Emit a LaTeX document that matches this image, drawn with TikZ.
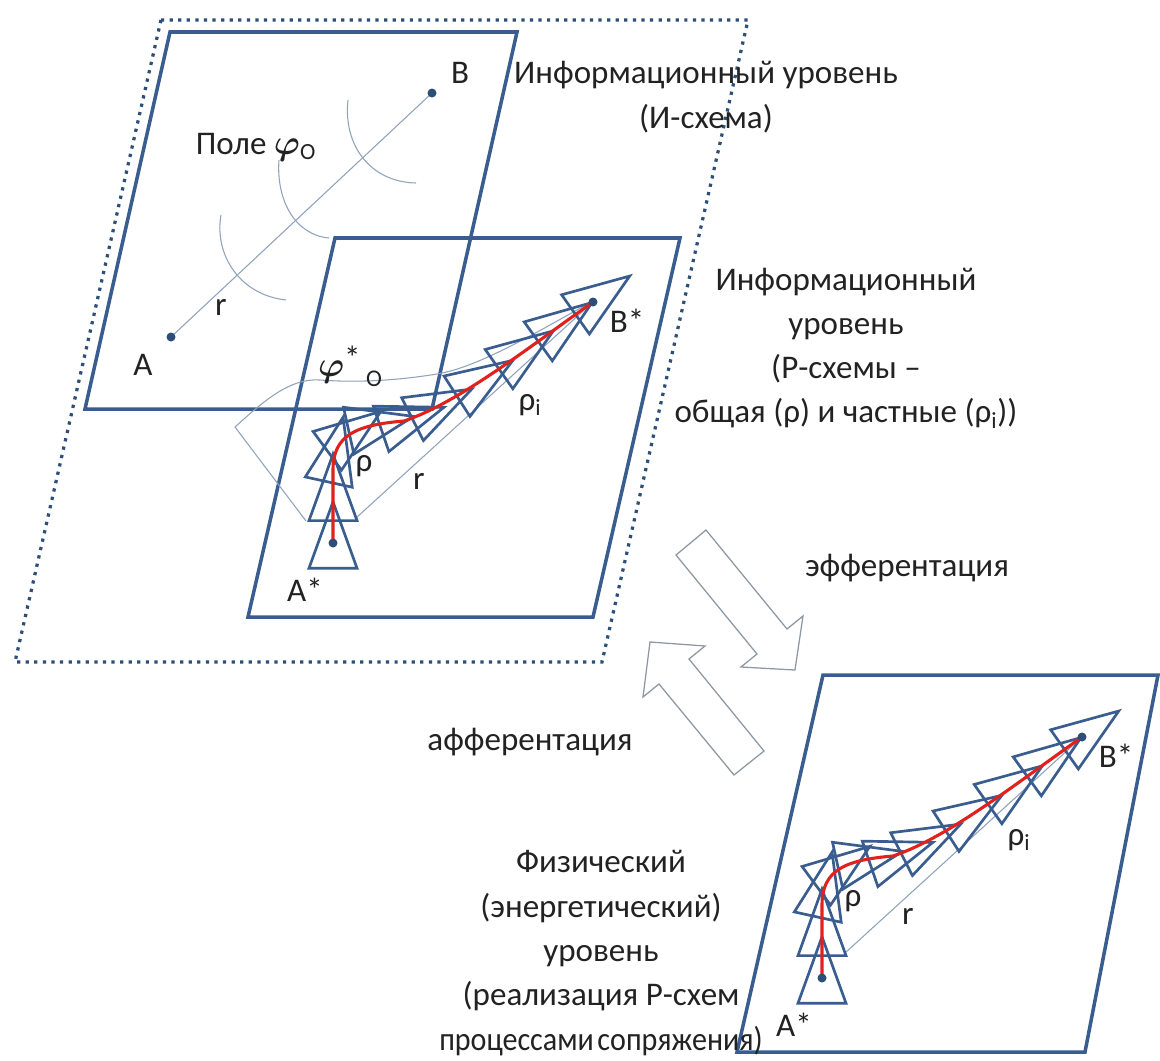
\documentclass[tikz,border=0pt]{standalone}
\usepackage{fontspec}
\setmainfont{Carlito}
\usepackage{amsmath}
\usepackage{graphicx}
\usetikzlibrary{decorations.markings}
\definecolor{frameblue}{HTML}{3A5D8F}
\definecolor{dotblue}{HTML}{2E4E7A}
\definecolor{thinblue}{HTML}{8FA3BC}
\definecolor{redc}{HTML}{E0221E}
\definecolor{arrowgray}{HTML}{8E98A3}
\definecolor{txt}{HTML}{222222}
\tikzset{
  frame/.style={draw=frameblue, line width=2.5pt, line join=miter},
  dotframe/.style={draw=dotblue, line width=2.3pt, dash pattern=on 2.3pt off 3.8pt},
  thinline/.style={draw=thinblue, line width=0.75pt},
  redline/.style={draw=redc, line width=2.2pt, line cap=round},
  tri/.style={draw=frameblue, line width=1.9pt, line join=miter},
  bigarrow/.style={draw=arrowgray, line width=0.9pt, fill=white, line join=miter},
  lbl/.style={font=\fontsize{23.5}{31.5}\selectfont, text=txt, inner sep=0pt},
  body/.style={lbl, align=center}
}
\newcommand\rtri{\draw[tri] (1.02cm,0cm) -- (-0.64cm,0.6cm) -- (-0.64cm,-0.6cm) -- cycle;}
\newcommand\pscheme[2]{%
\begin{scope}[shift={#1}]
  \draw[thinline] (23,-25) -- (260,-241);
  \path[decorate,decoration={markings,
      mark=at position 0.01cm with {\rtri},
      mark=at position 1.2cm with {\rtri},
      mark=at position 2.15cm with {\rtri},
      mark=at position 2.8cm with {\rtri},
      mark=at position 3.5cm with {\rtri},
      mark=at position 4.3cm with {\rtri}}]
    (0,0) -- (0,-73) .. controls (0,-108) and (23,-118) .. (71,-122)
    .. controls (125,-140) and (195,-195) .. (260,-241) -- (301,-270);
  \path[decorate,decoration={markings,
      mark=at position -6cm with {\rtri},
      mark=at position -4.75cm with {\rtri},
      mark=at position -3.5cm with {\rtri},
      mark=at position -2.3cm with {\rtri},
      mark=at position -1.15cm with {\rtri}}]
    (0,0) -- (0,-73) .. controls (0,-108) and (23,-118) .. (71,-122)
    .. controls (125,-140) and (195,-195) .. (260,-241) -- (301,-270);
  \draw[redline] (0,0) -- (0,-73) .. controls (0,-108) and (23,-118) .. (71,-122)
    .. controls (125,-140) and (195,-195) .. (260,-241);
  \fill[dotblue] (0,0) circle (4.5);
  \fill[dotblue] (260,-241) circle (4.5);
  \node[lbl] (#2A) at (-28,47) {A*};
  \node[lbl] (#2B) at (294,-222) {B*};
  \node[lbl] (#2rho) at (31,-77) {ρ};
  \node[lbl] (#2r) at (86,-62) {r};
  \node[lbl] (#2rhoi) at (197,-138) {ρ\textsubscript{i}};
\end{scope}}
\begin{document}
\begin{tikzpicture}[x=0.025cm, y=-0.025cm]
\useasboundingbox[fill=white] (0,0) rectangle (1160,1061);
% frames
\draw[dotframe] (161,20) -- (748,20) -- (602,662) -- (15,662) -- cycle;
\draw[frame] (170,32) -- (517,32) -- (432,409) -- (85,409) -- cycle;
\draw[frame] (335,238) -- (680,238) -- (593,617) -- (248,617) -- cycle;
\draw[frame] (823,675) -- (1158,675) -- (1085,1052) -- (737,1052) -- cycle;
% upper scheme
\draw[thinline] (171,337) -- (432,93);
\draw[thinline] (221,215) .. controls (214,255) and (240,295) .. (286,300);
\draw[thinline] (279,160) .. controls (276,200) and (295,235) .. (329,238);
\draw[thinline] (348,100) .. controls (343,145) and (370,182) .. (416,183);
\fill[dotblue] (171,337) circle (4.5);
\fill[dotblue] (432,93) circle (4.5);
\node[lbl] (Bl) at (460,73) {B};
\node[lbl] (Al) at (143,365) {A};
\node[lbl] (rl) at (221,307) {r};
\node[lbl] (pole) at (256,147) {Поле $\boldsymbol{\varphi}$\textsubscript{O}};
% phi* field in middle frame
\draw[thinline] (306,521) -- (235,427) .. controls (265,400) and (290,378) .. (320,380)
  .. controls (360,383) and (400,380) .. (437,374) .. controls (480,367) and (540,330) .. (595,300);
\node[lbl] (phis) at (350,366) {$\boldsymbol{\varphi}$\raisebox{5pt}{*}\,\raisebox{-7pt}{\fontsize{17}{17}\selectfont O}};
% P-schemes
\pscheme{(333,543)}{m}
\pscheme{(822,978)}{p}
% big arrows
\draw[bigarrow] (706,530) -- (787,629) -- (803,616) -- (795,670) -- (741,667) -- (757,654) -- (676,555) -- cycle;
\draw[bigarrow] (764,751) -- (689,659) -- (705,646) -- (650,642) -- (643,697) -- (659,684) -- (734,775) -- cycle;
% texts
\node[body] (t1) at (706,97) {Информационный уровень\\(И-схема)};
\node[body] (t2) at (846,348) {Информационный\\уровень\\(Р-схемы –\\общая (ρ) и частные (ρ\textsubscript{i}))};
\node[lbl] (eff) at (907,568) {эфферентация};
\node[lbl] (aff) at (530,742) {афферентация};
\node[body] (t3) at (601,953) {Физический\\(энергетический)\\уровень\\(реализация Р-схем\\\scalebox{0.91}[1]{процессами\hspace{0.12em}сопряжения)}};
\end{tikzpicture}
\end{document}
